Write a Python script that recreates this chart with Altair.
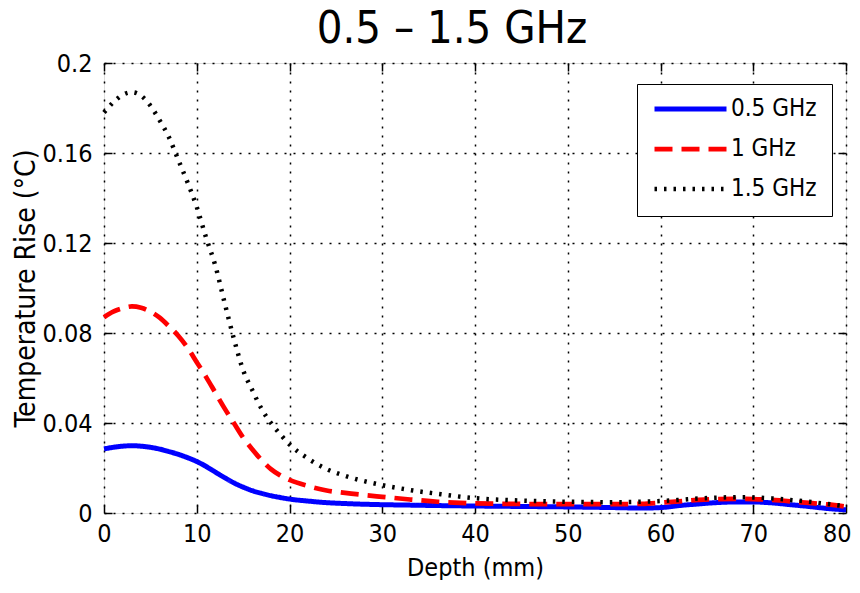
import altair as alt
import pandas as pd

depth = [0, 1, 2, 3, 4, 5, 6, 7, 8, 9, 10, 11, 12, 13, 14, 15, 16, 17, 18, 19, 20,
         22, 24, 26, 28, 30, 33, 36, 40, 45, 50, 55, 58, 60, 62, 64, 66, 68, 70,
         72, 74, 76, 78, 80]

t_05 = [0.0285, 0.0292, 0.0297, 0.0299, 0.0297, 0.0292, 0.0284, 0.0273, 0.0261, 0.0246,
        0.0229, 0.0207, 0.0182, 0.0157, 0.0134, 0.0115, 0.0099, 0.0087, 0.0077, 0.0069,
        0.0062, 0.0053, 0.0046, 0.0042, 0.0039, 0.0037, 0.0035, 0.0033, 0.0031, 0.0029,
        0.0027, 0.0024, 0.0022, 0.0024, 0.0033, 0.0040, 0.0046, 0.0049, 0.0049, 0.0045,
        0.0037, 0.0029, 0.0020, 0.0014]

t_10 = [0.0870, 0.0895, 0.0910, 0.0918, 0.0912, 0.0895, 0.0868, 0.0830, 0.0788, 0.0735,
        0.0670, 0.0605, 0.0535, 0.0465, 0.0400, 0.0335, 0.0282, 0.0235, 0.0195, 0.0167,
        0.0147, 0.0120, 0.0100, 0.0089, 0.0080, 0.0072, 0.0060, 0.0050, 0.0043, 0.0040,
        0.0039, 0.0039, 0.0041, 0.0046, 0.0052, 0.0058, 0.0062, 0.0063, 0.0062, 0.0058,
        0.0052, 0.0045, 0.0038, 0.0028]

t_15 = [0.1780, 0.1825, 0.1858, 0.1870, 0.1855, 0.1810, 0.1745, 0.1670, 0.1570, 0.1470,
        0.1360, 0.1225, 0.1100, 0.0935, 0.0775, 0.0635, 0.0545, 0.0462, 0.0400, 0.0350,
        0.0305, 0.0242, 0.0195, 0.0165, 0.0142, 0.0124, 0.0102, 0.0085, 0.0066, 0.0055,
        0.0050, 0.0048, 0.0050, 0.0053, 0.0058, 0.0064, 0.0068, 0.0070, 0.0069, 0.0065,
        0.0058, 0.0050, 0.0040, 0.0030]

series_names = ["0.5 GHz", "1 GHz", "1.5 GHz"]
series_colors = ["#0000ff", "#ff0000", "#000000"]
series_dash = [[1, 0], [18, 9], [2.5, 7]]
series_width = [5, 4.5, 2.5]

x_ticks = [0, 10, 20, 30, 40, 50, 60, 70, 80]
y_ticks = [0, 0.04, 0.08, 0.12, 0.16, 0.2]

rows = []
for name, vals in zip(series_names, [t_05, t_10, t_15]):
    for d, v in zip(depth, vals):
        rows.append({"depth": d, "temp": v, "series": name})
df = pd.DataFrame(rows)

FONT = "DejaVu Sans Condensed, Liberation Sans Narrow, sans-serif"

x_scale = alt.Scale(domain=[0, 80], nice=False, zero=False)
y_scale = alt.Scale(domain=[0, 0.2], nice=False)

legend = alt.Legend(
    title=None, orient="none", legendX=533, legendY=21,
    symbolType="stroke", symbolSize=5184, clipHeight=20, rowPadding=16,
    labelFont=FONT, labelFontSize=24, labelColor="black", labelOffset=2,
    padding=15, strokeColor="black", fillColor="white",
)

common_axis = dict(
    labelFont=FONT, labelFontSize=25, labelColor="black",
    titleFont=FONT, titleFontSize=25, titleColor="black", titleFontWeight="normal",
    tickColor="black", tickWidth=1.5, tickSize=8, offset=-8, domain=False,
    gridColor="black", gridDash=[2, 7], gridWidth=1.5, gridOpacity=1,
    labelFlush=False, labelOverlap=False,
)

last_x = {"condition": {"test": "datum.value >= 80", "value": "right"}, "value": "center"}
last_x_off = {"condition": {"test": "datum.value >= 80", "value": 5}, "value": 0}

lines = alt.Chart(df).mark_line(interpolate="monotone").encode(
    x=alt.X("depth:Q", scale=x_scale,
            axis=alt.Axis(values=x_ticks, format="d", title="Depth (mm)", grid=True,
                          labelPadding=8, titlePadding=9, labelAlign=last_x,
                          labelOffset=last_x_off, **common_axis)),
    y=alt.Y("temp:Q", scale=y_scale,
            axis=alt.Axis(values=y_ticks, format="~g", title="Temperature Rise (°C)", grid=True,
                          labelPadding=12, titlePadding=1,
                          **{**common_axis, "titleFontSize": 28})),
    color=alt.Color("series:N", scale=alt.Scale(domain=series_names, range=series_colors), legend=legend),
    strokeDash=alt.StrokeDash("series:N", scale=alt.Scale(domain=series_names, range=series_dash), legend=legend),
    strokeWidth=alt.StrokeWidth("series:N", scale=alt.Scale(domain=series_names, range=series_width), legend=legend),
)

frame = alt.Chart(df).mark_line(opacity=0).encode(
    x=alt.X("depth:Q", scale=x_scale,
            axis=alt.Axis(orient="top", values=x_ticks, labels=False, title="", grid=False,
                          **common_axis)),
    y=alt.Y("temp:Q", scale=y_scale,
            axis=alt.Axis(orient="right", values=y_ticks, labels=False, title="", grid=False,
                          **common_axis)),
    detail="series:N",
)

chart = alt.layer(lines, frame).resolve_axis(x="independent", y="independent").properties(
    width=742, height=450,
    autosize=alt.AutoSizeParams(type="none"),
    padding={"left": 96, "top": 55, "right": 6, "bottom": 67},
    title=alt.TitleParams("0.5 – 1.5 GHz", font=FONT, fontSize=45, fontWeight="normal",
                          color="black", frame="group", anchor="middle", dx=-23, dy=6, offset=5),
).configure_view(stroke="black", strokeWidth=1.5).configure(background="white")

chart.save("out.html", embed_options={"renderer": "svg", "actions": False})
